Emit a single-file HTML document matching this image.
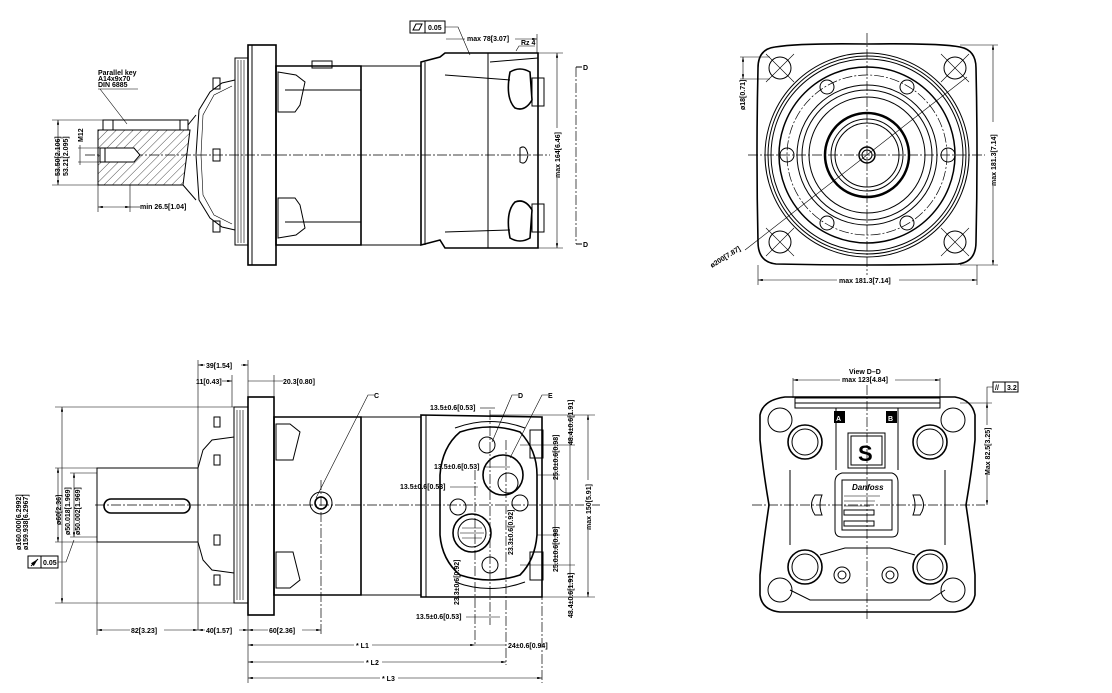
<!DOCTYPE html>
<html><head><meta charset="utf-8"><style>
html,body{margin:0;padding:0;background:#fff;}
svg{display:block;}
text{font-family:"Liberation Sans",sans-serif;font-size:7px;font-weight:bold;fill:#000;}
.t{fill:none;stroke:#000;stroke-width:1;}
.k{fill:none;stroke:#000;stroke-width:1.6;}
.h{fill:none;stroke:#000;stroke-width:0.6;}
.c{fill:none;stroke:#000;stroke-width:0.7;stroke-dasharray:10 2 2 2;}
.d{fill:none;stroke:#000;stroke-width:0.6;}
</style></head><body>
<svg width="1112" height="693" viewBox="0 0 1112 693" xmlns="http://www.w3.org/2000/svg">
<defs>
<marker id="a" viewBox="0 0 8 4" refX="8" refY="2" markerWidth="8" markerHeight="4" orient="auto-start-reverse"><path d="M0,0 L8,2 L0,4z" fill="#000"/></marker>
<pattern id="hat" width="6" height="6" patternUnits="userSpaceOnUse" patternTransform="rotate(45)"><line x1="0" y1="0" x2="0" y2="6" stroke="#000" stroke-width="0.7"/></pattern>
</defs>

<!-- ================= TOP SIDE VIEW ================= -->
<line class="c" x1="85" y1="155" x2="550" y2="155"/>
<rect class="k" x="248" y="45" width="28" height="220"/>
<line class="t" x1="252" y1="45" x2="252" y2="265"/>
<rect class="t" x="235" y="58" width="13" height="187"/>
<g class="h"><line x1="238" y1="60" x2="238" y2="243"/><line x1="241" y1="60" x2="241" y2="243"/><line x1="244" y1="60" x2="244" y2="243"/></g>
<path class="t" d="M235,80 L222,83 L210,92 L199,110 L196,155 L199,200 L210,218 L222,227 L235,230"/>
<path class="h" d="M232,86 L214,95 L203,115 L201,155 L203,195 L214,215 L232,224"/>
<rect class="t" x="213" y="78" width="7" height="11"/><rect class="t" x="213" y="149" width="7" height="12"/><rect class="t" x="213" y="221" width="7" height="11"/>
<rect class="t" x="103" y="120" width="85" height="10"/>
<line class="t" x1="113" y1="120" x2="113" y2="130"/><line class="t" x1="180" y1="120" x2="180" y2="130"/>
<path d="M98,130 L190,130 L183,185 L98,185z" fill="url(#hat)" stroke="#000" stroke-width="1"/>
<path d="M100,148 L134,148 L140,155 L134,162 L100,162z" fill="#fff" stroke="#000" stroke-width="1"/>
<line class="t" x1="105" y1="148" x2="105" y2="162"/>
<path class="t" d="M188,125 L196,115 M183,185 L196,200"/>
<path class="k" d="M276,66 L361,66 L361,245 L276,245z"/>
<path class="t" d="M361,66 L421,66 L421,245 L361,245"/>
<line class="t" x1="285" y1="90" x2="361" y2="90"/><line class="t" x1="285" y1="222" x2="361" y2="222"/>
<path class="t" d="M278,72 L296,75 L305,82 L300,105 L295,112 L278,112z"/>
<path class="t" d="M278,238 L296,235 L305,228 L300,205 L295,198 L278,198z"/>
<rect class="t" x="312" y="61" width="20" height="7"/>
<path class="k" d="M421,62 L440,57 L445,53 L538,53 L538,248 L445,248 L440,240 L421,245z"/>
<line class="t" x1="425" y1="62" x2="425" y2="245"/>
<line class="t" x1="488" y1="53" x2="488" y2="248"/>
<path class="t" d="M490,62 L538,58 M445,75 L510,80 M445,232 L510,230"/>
<path class="k" d="M510,72 Q520,66 530,72 L532,100 Q525,112 515,108 Q505,98 510,72z"/>
<path class="k" d="M510,238 Q520,244 530,238 L532,210 Q525,198 515,202 Q505,212 510,238z"/>
<rect class="t" x="532" y="78" width="12" height="28"/><rect class="t" x="532" y="204" width="12" height="28"/>
<path class="t" d="M520,148 Q526,144 528,155 Q526,166 520,162z"/>
<rect class="t" x="410" y="21" width="15" height="12"/><rect class="t" x="425" y="21" width="20" height="12"/>
<path class="t" d="M413,30 L416,24 L422,24 L419,30z"/>
<text x="428" y="30">0.05</text>
<path class="d" d="M445,27 L458,27 L470,55"/>
<line class="d" x1="446" y1="39" x2="537" y2="39" marker-end="url(#a)"/>
<line class="d" x1="537" y1="34" x2="537" y2="53"/>
<rect x="465" y="34" width="50" height="9" fill="#fff"/><text x="467" y="41">max 78[3.07]</text>
<path class="d" d="M516,51 L519,46 L535,46"/><text x="521" y="45">Rz 4</text>
<line class="d" x1="538" y1="53" x2="563" y2="53"/><line class="d" x1="538" y1="248" x2="563" y2="248"/>
<line class="d" x1="557" y1="53" x2="557" y2="248" marker-start="url(#a)" marker-end="url(#a)"/>
<rect x="553" y="128" width="8" height="50" fill="#fff"/>
<text transform="translate(560,178) rotate(-90)">max 164[6.46]</text>
<line class="c" x1="576" y1="67" x2="576" y2="244"/>
<path class="t" d="M576,67 L582,67 M576,244 L582,244"/>
<text x="583" y="70">D</text><text x="583" y="247">D</text>
<text x="98" y="75">Parallel key</text><text x="98" y="81">A14x9x70</text><text x="98" y="87">DIN 6885</text>
<path class="d" d="M98,89 L138,89 M100,89 L127,124"/>
<line class="d" x1="52" y1="120" x2="103" y2="120"/><line class="d" x1="52" y1="185" x2="98" y2="185"/>
<line class="d" x1="58" y1="120" x2="58" y2="185" marker-start="url(#a)" marker-end="url(#a)"/>
<text transform="translate(60,176) rotate(-90)">53.50[2.106]</text>
<text transform="translate(68,176) rotate(-90)">53.21[2.095]</text>
<line class="d" x1="80" y1="145" x2="80" y2="165"/>
<path class="d" d="M78,148 L100,148 M78,162 L100,162"/>
<text transform="translate(83,142) rotate(-90)">M12</text>
<line class="d" x1="98" y1="185" x2="98" y2="212"/><line class="d" x1="130" y1="185" x2="130" y2="212"/>
<line class="d" x1="98" y1="207" x2="130" y2="207" marker-start="url(#a)" marker-end="url(#a)"/>
<line class="d" x1="130" y1="207" x2="140" y2="207"/>
<text x="140" y="209">min  26.5[1.04]</text>

<!-- ================= TOP RIGHT VIEW ================= -->
<path class="k" d="M775,47 Q800,43 867,44 Q940,43 960,47 Q976,50 976,68 Q978,155 976,242 Q976,262 958,264 Q867,266 776,264 Q758,262 758,242 Q756,155 758,68 Q758,49 775,47z"/>
<line class="c" x1="748" y1="155" x2="985" y2="155"/>
<line class="c" x1="867" y1="33" x2="867" y2="275"/>
<g class="t">
<circle cx="867" cy="155" r="102"/><circle cx="867" cy="155" r="99"/><circle cx="867" cy="155" r="96"/>
<circle cx="867" cy="155" r="88" stroke-width="1.5"/>
<circle cx="867" cy="155" r="70"/><circle cx="867" cy="155" r="65"/><circle cx="867" cy="155" r="58"/>
<circle cx="867" cy="155" r="42" stroke-width="2.5"/><circle cx="867" cy="155" r="36"/><circle cx="867" cy="155" r="32"/>
<circle cx="867" cy="155" r="8" stroke-width="1.5"/><circle cx="867" cy="155" r="5"/>
</g>
<circle class="c" cx="867" cy="155" r="80"/>
<g class="t">
<circle cx="827" cy="87" r="7"/><circle cx="907" cy="87" r="7"/><circle cx="787" cy="155" r="7"/><circle cx="948" cy="155" r="7"/><circle cx="827" cy="223" r="7"/><circle cx="907" cy="223" r="7"/>
<circle cx="780" cy="68" r="11"/><circle cx="955" cy="68" r="11"/><circle cx="780" cy="242" r="11"/><circle cx="955" cy="242" r="11"/>
</g>
<g class="h">
<path d="M766,54 L794,82 M794,54 L766,82 M941,54 L969,82 M969,54 L941,82 M766,228 L794,256 M794,228 L766,256 M941,228 L969,256 M969,228 L941,256"/>
</g>
<line class="d" x1="745" y1="250" x2="967" y2="77"/>
<text transform="translate(712,268) rotate(-32)">ø200[7.87]</text>
<path class="d" d="M740,57 L770,57 M740,79 L770,79"/>
<line class="d" x1="743" y1="57" x2="743" y2="79" marker-start="url(#a)" marker-end="url(#a)"/>
<text transform="translate(745,110) rotate(-90)">ø18[0.71]</text>
<line class="d" x1="758" y1="265" x2="758" y2="285"/><line class="d" x1="977" y1="265" x2="977" y2="285"/>
<line class="d" x1="758" y1="280" x2="977" y2="280" marker-start="url(#a)" marker-end="url(#a)"/>
<rect x="837" y="275" width="62" height="9" fill="#fff"/><text x="839" y="283">max  181.3[7.14]</text>
<path class="d" d="M960,45 L998,45 M960,265 L998,265"/>
<line class="d" x1="993" y1="45" x2="993" y2="265" marker-start="url(#a)" marker-end="url(#a)"/>
<rect x="989" y="122" width="8" height="64" fill="#fff"/>
<text transform="translate(996,186) rotate(-90)">max  181.3[7.14]</text>

<!-- ================= BOTTOM SIDE VIEW ================= -->
<line class="c" x1="95" y1="505" x2="600" y2="505"/>
<rect class="k" x="248" y="397" width="26" height="218"/>
<rect class="t" x="234" y="407" width="14" height="196"/>
<g class="h"><line x1="237" y1="410" x2="237" y2="600"/><line x1="240" y1="410" x2="240" y2="600"/><line x1="243" y1="410" x2="243" y2="600"/></g>
<path class="t" d="M234,437 L212,440 L203,450 L198,468 L198,542 L203,560 L212,570 L234,573"/>
<rect class="t" x="214" y="417" width="6" height="10"/><rect class="t" x="214" y="455" width="6" height="10"/><rect class="t" x="214" y="535" width="6" height="10"/><rect class="t" x="214" y="575" width="6" height="10"/>
<rect class="t" x="97" y="468" width="101" height="74"/>
<rect class="k" x="104" y="499" width="86" height="14" rx="7"/>
<path class="k" d="M274,417 L361,417 L361,595 L274,595z"/>
<path class="t" d="M361,417 L421,417 L421,595 L361,595"/>
<path class="t" d="M276,424 L290,424 L300,432 L293,460 L276,460z"/>
<path class="t" d="M276,588 L290,588 L300,580 L293,552 L276,552z"/>
<circle class="t" cx="321" cy="503" r="11"/><circle class="k" cx="321" cy="503" r="6"/>
<line class="c" x1="321" y1="480" x2="321" y2="635"/>
<path class="k" d="M421,415 L542,417 L542,597 L421,597z"/>
<line class="t" x1="426" y1="415" x2="426" y2="597"/>
<rect class="t" x="530" y="430" width="13" height="28"/><rect class="t" x="530" y="552" width="13" height="28"/>
<path class="k" d="M460,432 Q490,422 520,432 Q537,450 537,475 L537,535 Q535,560 520,575 Q490,585 460,575 Q442,560 440,535 L440,475 Q442,447 460,432z"/>
<path class="t" d="M455,428 Q490,415 525,428 M455,582 Q490,595 525,582"/>
<circle class="t" cx="487" cy="445" r="8"/><circle class="t" cx="458" cy="507" r="8"/><circle class="t" cx="520" cy="503" r="8"/><circle class="t" cx="490" cy="565" r="8"/>
<circle class="k" cx="503" cy="475" r="20"/><circle class="t" cx="508" cy="483" r="10"/>
<circle class="k" cx="472" cy="533" r="19"/><circle class="t" cx="472" cy="533" r="14"/>
<g class="h"><line x1="462" y1="528" x2="482" y2="528"/><line x1="460" y1="533" x2="484" y2="533"/><line x1="462" y1="538" x2="482" y2="538"/></g>
<g class="c"><line x1="490" y1="410" x2="490" y2="625"/><line x1="506" y1="440" x2="506" y2="665"/><line x1="475" y1="470" x2="475" y2="645"/><line x1="542" y1="590" x2="542" y2="683"/></g>
<path class="d" d="M316,498 L368,395 L374,395"/><text x="374" y="398">C</text>
<path class="d" d="M492,442 L512,395 L518,395"/><text x="518" y="398">D</text>
<path class="d" d="M510,458 L542,395 L548,395"/><text x="548" y="398">E</text>
<path class="d" d="M198,360 L198,630 M232,375 L232,407 M248,360 L248,683 M274,375 L274,397"/>
<line class="d" x1="198" y1="365" x2="248" y2="365" marker-start="url(#a)" marker-end="url(#a)"/>
<rect x="205" y="360" width="36" height="9" fill="#fff"/><text x="206" y="368">39[1.54]</text>
<line class="d" x1="222" y1="381" x2="232" y2="381" marker-end="url(#a)"/>
<text x="196" y="384">11[0.43]</text>
<line class="d" x1="248" y1="381" x2="283" y2="381"/>
<text x="283" y="384">20.3[0.80]</text>
<path class="d" d="M55,407 L234,407 M55,603 L234,603"/>
<line class="d" x1="62" y1="407" x2="62" y2="603" marker-start="url(#a)" marker-end="url(#a)"/>
<text transform="translate(21,550) rotate(-90)">ø160.000[6.2992]</text>
<text transform="translate(28,550) rotate(-90)">ø159.938[6.2967]</text>
<path class="d" d="M55,468 L97,468 M55,542 L97,542 M70,473 L97,473 M70,537 L97,537"/>
<line class="d" x1="58" y1="468" x2="58" y2="542" marker-start="url(#a)" marker-end="url(#a)"/>
<line class="d" x1="74" y1="473" x2="74" y2="537" marker-start="url(#a)" marker-end="url(#a)"/>
<text transform="translate(61,525) rotate(-90)">ø60[2.36]</text>
<text transform="translate(70,535) rotate(-90)">ø50.018[1.969]</text>
<text transform="translate(80,535) rotate(-90)">ø50.002[1.969]</text>
<rect class="t" x="28" y="556" width="13" height="12"/><rect class="t" x="41" y="556" width="17" height="12"/>
<path d="M31,566 L38,559" stroke="#000" stroke-width="1" marker-end="url(#a)"/>
<text x="43" y="565">0.05</text>
<path class="d" d="M58,562 L66,562 L74,540"/>
<path class="d" d="M97,542 L97,635"/>
<line class="d" x1="97" y1="630" x2="198" y2="630" marker-start="url(#a)" marker-end="url(#a)"/>
<line class="d" x1="198" y1="630" x2="248" y2="630" marker-start="url(#a)" marker-end="url(#a)"/>
<line class="d" x1="248" y1="630" x2="321" y2="630" marker-start="url(#a)" marker-end="url(#a)"/>
<rect x="130" y="626" width="34" height="9" fill="#fff"/><text x="131" y="633">82[3.23]</text>
<rect x="205" y="626" width="34" height="9" fill="#fff"/><text x="206" y="633">40[1.57]</text>
<rect x="268" y="626" width="34" height="9" fill="#fff"/><text x="269" y="633">60[2.36]</text>
<line class="d" x1="248" y1="645" x2="475" y2="645" marker-start="url(#a)" marker-end="url(#a)"/>
<line class="d" x1="475" y1="645" x2="506" y2="645"/>
<rect x="354" y="640" width="18" height="9" fill="#fff"/><text x="356" y="648">* L1</text>
<text x="508" y="648">24±0.6[0.94]</text>
<line class="d" x1="248" y1="662" x2="506" y2="662" marker-start="url(#a)" marker-end="url(#a)"/>
<rect x="364" y="657" width="18" height="9" fill="#fff"/><text x="366" y="665">* L2</text>
<line class="d" x1="248" y1="678" x2="542" y2="678" marker-start="url(#a)" marker-end="url(#a)"/>
<rect x="380" y="673" width="18" height="9" fill="#fff"/><text x="382" y="681">* L3</text>
<path class="d" d="M490,415 L595,415 M490,597 L595,597 M520,445 L575,445 M520,565 L575,565 M537,475 L560,475 M537,535 L560,535"/>
<line class="d" x1="588" y1="415" x2="588" y2="597" marker-start="url(#a)" marker-end="url(#a)"/>
<rect x="584" y="480" width="8" height="50" fill="#fff"/>
<text transform="translate(591,530) rotate(-90)">max  150[5.91]</text>
<line class="d" x1="570" y1="415" x2="570" y2="597"/>
<text transform="translate(573,445) rotate(-90)">48.4±0.6[1.91]</text>
<text transform="translate(573,618) rotate(-90)">48.4±0.6[1.91]</text>
<line class="d" x1="555" y1="445" x2="555" y2="565"/>
<text transform="translate(558,480) rotate(-90)">25.0±0.6[0.98]</text>
<text transform="translate(558,572) rotate(-90)">25.0±0.6[0.98]</text>
<text transform="translate(513,555) rotate(-90)">23.3±0.6[0.92]</text>
<text transform="translate(459,605) rotate(-90)">23.3±0.6[0.92]</text>
<text x="430" y="410">13.5±0.6[0.53]</text><path class="d" d="M480,408 L495,408"/>
<text x="434" y="469">13.5±0.6[0.53]</text><path class="d" d="M484,467 L510,467"/>
<text x="400" y="489">13.5±0.6[0.53]</text><path class="d" d="M450,487 L478,487"/>
<text x="416" y="619">13.5±0.6[0.53]</text><path class="d" d="M466,617 L500,617"/>

<!-- ================= BOTTOM RIGHT VIEW ================= -->
<path class="k" d="M785,397 L955,397 Q972,400 975,415 L975,440 Q972,470 966,505 Q972,545 975,575 L975,595 Q972,610 955,612 L780,612 Q762,610 760,595 L760,575 Q763,545 769,505 Q763,470 760,440 L760,415 Q763,400 785,397z"/>
<rect class="t" x="795" y="398" width="145" height="10"/>
<line class="t" x1="795" y1="403" x2="940" y2="403"/>
<line class="c" x1="752" y1="505" x2="985" y2="505"/>
<line class="c" x1="867" y1="385" x2="867" y2="620"/>
<g class="t">
<circle cx="780" cy="420" r="12"/><circle cx="953" cy="420" r="12"/><circle cx="780" cy="590" r="12"/><circle cx="953" cy="590" r="12"/>
<circle cx="842" cy="575" r="8"/><circle cx="842" cy="575" r="4"/><circle cx="890" cy="575" r="4"/><circle cx="890" cy="575" r="8"/>
</g>
<g class="k">
<circle cx="805" cy="442" r="17"/><circle cx="930" cy="442" r="17"/><circle cx="805" cy="567" r="17"/><circle cx="930" cy="567" r="17"/>
</g>
<g class="t">
<circle cx="805" cy="442" r="13"/><circle cx="930" cy="442" r="13"/><circle cx="805" cy="567" r="13"/><circle cx="930" cy="567" r="13"/>
</g>
<path class="t" d="M836,408 L836,470 M898,408 L898,470 M790,470 L790,545 M945,470 L945,545 M820,555 L845,548 L890,548 L915,555 M790,590 L810,600 L930,600 L945,590"/>
<rect x="834" y="411" width="11" height="12" fill="#000"/><text x="836" y="421" style="fill:#fff">A</text>
<rect x="886" y="411" width="11" height="12" fill="#000"/><text x="888" y="421" style="fill:#fff">B</text>
<rect class="t" x="848" y="433" width="37" height="35"/>
<rect class="t" x="851" y="436" width="31" height="29"/>
<text x="858" y="461" style="font-size:22px;font-weight:bold">S</text>
<path class="t" d="M842,473 L892,473 Q898,475 898,482 L898,530 Q898,537 892,537 L842,537 Q835,537 835,530 L835,482 Q835,475 842,473z"/>
<rect class="t" x="842" y="480" width="50" height="50"/>
<text x="852" y="490" style="font-style:italic;font-size:8px">Danfoss</text>
<g class="h"><line x1="844" y1="496" x2="880" y2="496"/><line x1="844" y1="501" x2="875" y2="501"/><line x1="844" y1="506" x2="870" y2="506"/></g>
<rect class="t" x="844" y="510" width="30" height="5"/><rect class="t" x="844" y="521" width="30" height="5"/>
<path class="t" d="M815,495 Q808,505 815,515 L822,515 Q818,505 822,495z"/>
<path class="t" d="M920,495 Q927,505 920,515 L913,515 Q917,505 913,495z"/>
<path class="d" d="M793,378 L793,398 M940,378 L940,398"/>
<line class="d" x1="793" y1="380" x2="940" y2="380" marker-start="url(#a)" marker-end="url(#a)"/>
<rect x="840" y="367" width="55" height="17" fill="#fff"/>
<text x="849" y="374">View  D–D</text><text x="842" y="382">max  123[4.84]</text>
<rect class="t" x="993" y="382" width="12" height="10"/><rect class="t" x="1005" y="382" width="13" height="10"/>
<text x="995" y="390">//</text><text x="1007" y="390">3.2</text>
<path class="d" d="M993,387 L987,387 L987,403"/>
<path class="d" d="M960,403 L992,403"/>
<line class="d" x1="987" y1="403" x2="987" y2="505" marker-start="url(#a)" marker-end="url(#a)"/>
<rect x="983" y="425" width="8" height="50" fill="#fff"/>
<text transform="translate(990,475) rotate(-90)">Max  82.5[3.25]</text>
</svg>
</body></html>
